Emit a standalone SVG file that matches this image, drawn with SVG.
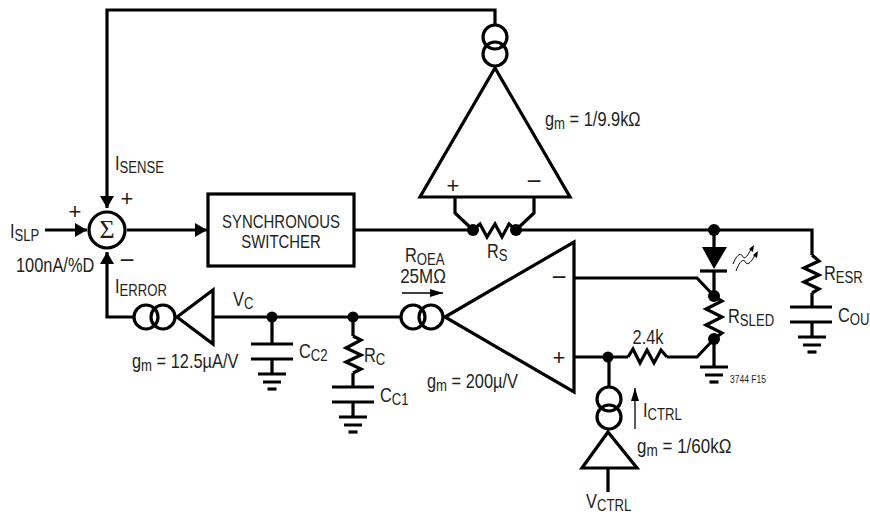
<svg xmlns="http://www.w3.org/2000/svg" width="870" height="515" viewBox="0 0 870 515">
<defs>
<style>
.w{fill:none;stroke:#000;stroke-width:3.200;stroke-linejoin:miter}
.k{fill:#000;stroke:none}
.f{fill:#fff;stroke:#000;stroke-width:3.200}
.t{stroke:#000;stroke-width:1.300;fill:none}
text{font-family:"Liberation Sans",Arial,sans-serif;font-size:20px;fill:#231f20}
tspan.s{font-size:16px}
.c{text-anchor:middle}
.p{font-size:22px;text-anchor:middle}
.m{font-size:26px;text-anchor:middle}
</style>
<marker id="big" markerUnits="userSpaceOnUse" markerWidth="13" markerHeight="14" refX="12" refY="7" orient="auto"><path d="M0 0L12 7L0 14Z" fill="#000"/></marker>
<marker id="thin" markerUnits="userSpaceOnUse" markerWidth="14" markerHeight="8" refX="13" refY="4" orient="auto"><path d="M0 0L13 4L0 8Z" fill="#000"/></marker>
<g id="gnd"><path class="w" d="M-14 0H14M-9 8H9"/><path class="w" d="M-4.500 15H4.500"/></g>
</defs>
<rect width="870" height="515" fill="#fff"/>
<g id="connectors">
<path class="w" d="M495 25V10H107V208" marker-end="url(#big)"/>
<path class="w" d="M45 230H87" marker-end="url(#big)"/>
<path class="w" d="M127 230H207" marker-end="url(#big)"/>
<path class="w" d="M134 317H107V252" marker-end="url(#big)"/>
<path class="w" d="M354 230H473M516 230H812V255M812 293V307"/>
<path class="w" d="M213 317H401M272 317V344M353 317V336M353 373V387"/>
<path class="w" d="M455 197V213L473 230M534 197V213L516 230"/>
<path class="w" d="M714 230V247M714 271V296M714 339V367"/>
<path class="w" d="M574 278H697L714 296M574 357H628M667 357H697L714 339M609 357V387M608 468V492"/>
<path class="w" d="M272 359V374M353 402V417M812 322V337"/>
<path class="t" d="M402 293H443" marker-end="url(#thin)"/>
<path class="t" d="M635 429V388" marker-end="url(#thin)"/>
</g>
<g id="sum"><circle class="f" cx="107" cy="230" r="18"/><text class="c" x="107" y="238" style="font-family:'Liberation Serif',serif;font-size:26px">Σ</text></g>
<g id="switcher"><rect class="f" x="208" y="194" width="146" height="72"/>
<text class="c" style="font-size:18px" transform="translate(281 228) scale(.83 1)">SYNCHRONOUS</text>
<text class="c" style="font-size:18px" transform="translate(281 248) scale(.83 1)">SWITCHER</text></g>
<g id="amp-sense"><path class="w" d="M495 68L570 197H420Z"/><circle class="w" cx="495" cy="37" r="12"/><circle class="w" cx="495" cy="54" r="12"/>
<text class="p" x="453" y="193">+</text><text class="m" x="534" y="190">−</text></g>
<g id="rs"><path class="w" d="M473 230L480 224L487 237L495 224L502 237L509 224L516 230"/><circle class="k" cx="473" cy="230" r="6"/><circle class="k" cx="516" cy="230" r="6"/></g>
<g id="led"><path class="k" d="M702 247H727L714 269Z"/><path class="w" d="M700 271H727"/><circle class="k" cx="714" cy="230" r="6"/>
<path class="t" style="stroke-width:1" d="M733 264C737 254 741 252 743 257C745 260 749 254 752 247M736 271C740 260 744 258 746 263C748 266 753 260 756 253"/>
<path class="k" d="M754 245L753 252L749 249ZM758 251L757 258L753 255Z"/></g>
<g id="rsled"><path class="w" d="M714 296L722 301L706 309L722 317L706 325L722 333L714 339"/><circle class="k" cx="714" cy="296" r="6"/><circle class="k" cx="714" cy="339" r="6"/><use href="#gnd" x="714" y="367"/></g>
<g id="r24"><path class="w" d="M628 357L633 349L640 363L647 350L654 363L661 350L667 357"/><circle class="k" cx="608" cy="357" r="5.500"/></g>
<g id="resr"><path class="w" d="M812 255L819 261L804 268L819 275L804 282L819 289L812 293"/><path class="w" d="M790 307H832M790 322H832"/><use href="#gnd" x="812" y="337"/></g>
<g id="amp-main"><path class="w" d="M445 317L574 242V392Z"/><circle class="w" cx="413" cy="317" r="12"/><circle class="w" cx="431" cy="317" r="12"/>
<text class="p" x="559" y="365">+</text><text class="m" x="559" y="286">−</text></g>
<g id="amp-error"><path class="w" d="M177 317L213 290V344Z"/><circle class="w" cx="146" cy="317" r="12"/><circle class="w" cx="163" cy="317" r="12"/></g>
<g id="cc2"><circle class="k" cx="272" cy="317" r="5.500"/><path class="w" d="M251 344H293M251 359H293"/><use href="#gnd" x="272" y="374"/></g>
<g id="rc"><circle class="k" cx="353" cy="317" r="5.500"/><path class="w" d="M353 336L361 340L346 348L361 355L346 362L361 369L353 373"/><path class="w" d="M332 387H374M332 402H374"/><use href="#gnd" x="353" y="417"/></g>
<g id="amp-ctrl"><circle class="w" cx="609" cy="399" r="12"/><circle class="w" cx="609" cy="417" r="12"/><path class="w" d="M608 432L637 468H582Z"/></g>
<g id="labels">
<text transform="translate(115 170) scale(.82 1)">I<tspan class="s" dy="3">SENSE</tspan></text>
<text x="127" y="206" class="p">+</text>
<text x="75" y="219" class="p">+</text>
<text x="127" y="269" class="m">−</text>
<text transform="translate(10 238) scale(.82 1)">I<tspan class="s" dy="3">SLP</tspan></text>
<text transform="translate(16 272) scale(.82 1)">100nA/%D</text>
<text transform="translate(115 293) scale(.82 1)">I<tspan class="s" dy="3">ERROR</tspan></text>
<text transform="translate(233 306) scale(.82 1)">V<tspan class="s" dy="3">C</tspan></text>
<text transform="translate(132 368) scale(.82 1)">g<tspan class="s" dy="3">m</tspan><tspan dy="-3"> = 12.5µA/V</tspan></text>
<text transform="translate(545 126) scale(.82 1)">g<tspan class="s" dy="3">m</tspan><tspan dy="-3"> = 1/9.9kΩ</tspan></text>
<text transform="translate(487 258) scale(.82 1)">R<tspan class="s" dy="3">S</tspan></text>
<text transform="translate(405 262) scale(.82 1)">R<tspan class="s" dy="3">OEA</tspan></text>
<text class="c" transform="translate(423 283) scale(.85 1)">25MΩ</text>
<text transform="translate(299 358) scale(.82 1)">C<tspan class="s" dy="3">C2</tspan></text>
<text transform="translate(364 362) scale(.82 1)">R<tspan class="s" dy="3">C</tspan></text>
<text transform="translate(380 402) scale(.82 1)">C<tspan class="s" dy="3">C1</tspan></text>
<text transform="translate(427 388) scale(.82 1)">g<tspan class="s" dy="3">m</tspan><tspan dy="-3"> = 200µ/V</tspan></text>
<text class="c" transform="translate(648 344) scale(.82 1)">2.4k</text>
<text transform="translate(728 323) scale(.82 1)">R<tspan class="s" dy="3">SLED</tspan></text>
<text transform="translate(824 280) scale(.82 1)">R<tspan class="s" dy="3">ESR</tspan></text>
<text transform="translate(838 322) scale(.82 1)">C<tspan class="s" dy="3">OUT</tspan></text>
<text transform="translate(643 417) scale(.82 1)">I<tspan class="s" dy="3">CTRL</tspan></text>
<text transform="translate(637 453) scale(.85 1)">g<tspan class="s" dy="3">m</tspan><tspan dy="-3"> = 1/60kΩ</tspan></text>
<text transform="translate(586 508) scale(.82 1)">V<tspan class="s" dy="3">CTRL</tspan></text>
<text transform="translate(730 383) scale(.85 1)" style="font-size:10px">3744 F15</text>
</g>
</svg>
